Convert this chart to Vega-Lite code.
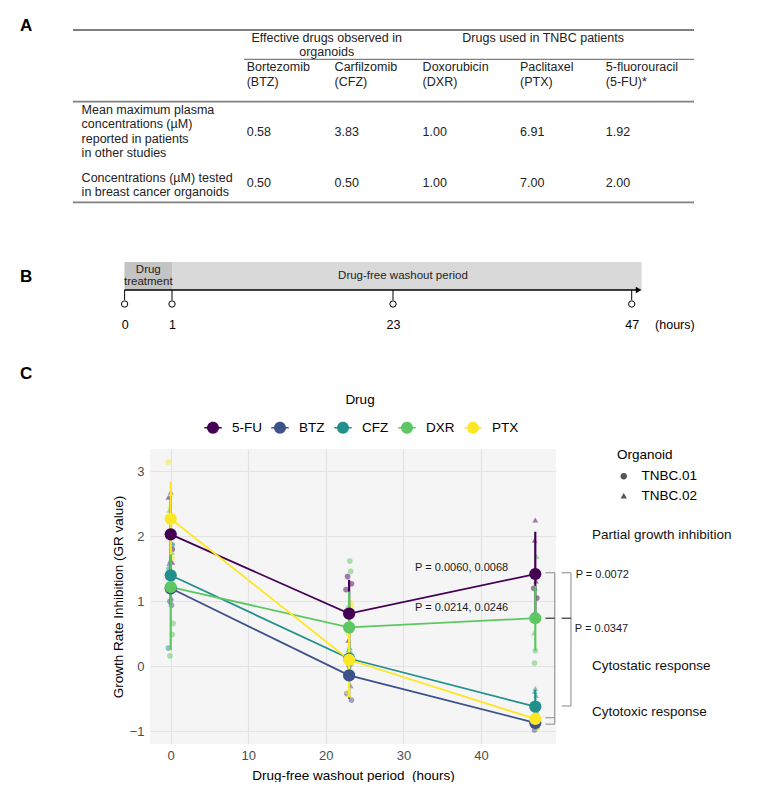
{
  "$schema": "https://vega.github.io/schema/vega-lite/v6.json",
  "padding": {"left": 20, "top": 17, "right": 0, "bottom": 0},
  "autosize": {"type": "pad"},
  "spacing": 34,
  "bounds": "full",
  "config": {
    "font": "Liberation Sans",
    "view": {"stroke": null},
    "title": {"fontSize": 17, "fontWeight": "bold", "anchor": "start", "frame": "group", "color": "#000000", "offset": 0, "font": "Liberation Sans"},
    "axis": {"labelFont": "Liberation Sans", "titleFont": "Liberation Sans"},
    "legend": {"labelFont": "Liberation Sans", "titleFont": "Liberation Sans"}
  },
  "vconcat": [
    {
      "title": {"text": "A", "dx": -130, "dy": 10},
      "width": 544,
      "height": 198,
      "layer": [
        {
          "data": {"values": [{"row": 0}, {"row": 4}, {"row": 7}]},
          "mark": {"type": "rule", "color": "#808080", "strokeWidth": 1.8, "xOffset": -8.6, "x2Offset": 88.2},
          "encoding": {
            "y": {"field": "row", "type": "quantitative", "axis": null, "scale": {"domain": [0,1,2,3,4,5,6,7], "range": [0,1.5,29.3,31,71.7,101.5,153,172.3], "nice": false, "zero": false}},
            "x": {"datum": 0, "type": "quantitative", "axis": null, "scale": {"domain": [0,1,2,3,4,5], "range": [-68.4,96.7,184.6,272.6,370,455.8], "nice": false, "zero": false}},
            "x2": {"datum": 5}
          }
        },
        {
          "data": {"values": [{"row": 2, "col": 1}]},
          "mark": {"type": "rule", "color": "#808080", "strokeWidth": 1.3, "xOffset": -2.7, "x2Offset": 88.2},
          "encoding": {
            "y": {"field": "row", "type": "quantitative", "axis": null, "scale": {"domain": [0,1,2,3,4,5,6,7], "range": [0,1.5,29.3,31,71.7,101.5,153,172.3], "nice": false, "zero": false}},
            "x": {"field": "col", "type": "quantitative", "axis": null, "scale": {"domain": [0,1,2,3,4,5], "range": [-68.4,96.7,184.6,272.6,370,455.8], "nice": false, "zero": false}},
            "x2": {"datum": 5}
          }
        },
        {
          "data": {"values": [
            {"row": 1, "col": 1.91, "text": "Effective drugs observed in\norganoids"},
            {"row": 1, "col": 4.27, "text": "Drugs used in TNBC patients"}
          ]},
          "mark": {"type": "text", "align": "center", "baseline": "top", "lineBreak": "\n", "lineHeight": 14.5, "fontSize": 12.5, "color": "#222222"},
          "encoding": {
            "y": {"field": "row", "type": "quantitative", "axis": null, "scale": {"domain": [0,1,2,3,4,5,6,7], "range": [0,1.5,29.3,31,71.7,101.5,153,172.3], "nice": false, "zero": false}},
            "x": {"field": "col", "type": "quantitative", "axis": null, "scale": {"domain": [0,1,2,3,4,5], "range": [-68.4,96.7,184.6,272.6,370,455.8], "nice": false, "zero": false}},
            "text": {"field": "text"}
          }
        },
        {
          "data": {"values": [
            {"row": 3, "col": 1, "text": "Bortezomib\n(BTZ)"},
            {"row": 3, "col": 2, "text": "Carfilzomib\n(CFZ)"},
            {"row": 3, "col": 3, "text": "Doxorubicin\n(DXR)"},
            {"row": 3, "col": 4, "text": "Paclitaxel\n(PTX)"},
            {"row": 3, "col": 5, "text": "5-fluorouracil\n(5-FU)*"}
          ]},
          "mark": {"type": "text", "align": "left", "baseline": "top", "lineBreak": "\n", "lineHeight": 15, "fontSize": 12.5, "color": "#222222"},
          "encoding": {
            "y": {"field": "row", "type": "quantitative", "axis": null, "scale": {"domain": [0,1,2,3,4,5,6,7], "range": [0,1.5,29.3,31,71.7,101.5,153,172.3], "nice": false, "zero": false}},
            "x": {"field": "col", "type": "quantitative", "axis": null, "scale": {"domain": [0,1,2,3,4,5], "range": [-68.4,96.7,184.6,272.6,370,455.8], "nice": false, "zero": false}},
            "text": {"field": "text"}
          }
        },
        {
          "data": {"values": [
            {"row": 5, "col": 0, "text": "Mean maximum plasma\nconcentrations (µM)\nreported in patients\nin other studies"}
          ]},
          "mark": {"type": "text", "align": "left", "baseline": "middle", "lineBreak": "\n", "lineHeight": 14.5, "fontSize": 12.5, "color": "#222222", "dy": -21.75},
          "encoding": {
            "y": {"field": "row", "type": "quantitative", "axis": null, "scale": {"domain": [0,1,2,3,4,5,6,7], "range": [0,1.5,29.3,31,71.7,101.5,153,172.3], "nice": false, "zero": false}},
            "x": {"field": "col", "type": "quantitative", "axis": null, "scale": {"domain": [0,1,2,3,4,5], "range": [-68.4,96.7,184.6,272.6,370,455.8], "nice": false, "zero": false}},
            "text": {"field": "text"}
          }
        },
        {
          "data": {"values": [
            {"row": 6, "col": 0, "text": "Concentrations (µM) tested\nin breast cancer organoids"}
          ]},
          "mark": {"type": "text", "align": "left", "baseline": "middle", "lineBreak": "\n", "lineHeight": 14, "fontSize": 12.5, "color": "#222222", "dy": -5.5},
          "encoding": {
            "y": {"field": "row", "type": "quantitative", "axis": null, "scale": {"domain": [0,1,2,3,4,5,6,7], "range": [0,1.5,29.3,31,71.7,101.5,153,172.3], "nice": false, "zero": false}},
            "x": {"field": "col", "type": "quantitative", "axis": null, "scale": {"domain": [0,1,2,3,4,5], "range": [-68.4,96.7,184.6,272.6,370,455.8], "nice": false, "zero": false}},
            "text": {"field": "text"}
          }
        },
        {
          "data": {"values": [
            {"row": 5, "col": 1, "text": "0.58"},
            {"row": 5, "col": 2, "text": "3.83"},
            {"row": 5, "col": 3, "text": "1.00"},
            {"row": 5, "col": 4, "text": "6.91"},
            {"row": 5, "col": 5, "text": "1.92"},
            {"row": 6, "col": 1, "text": "0.50"},
            {"row": 6, "col": 2, "text": "0.50"},
            {"row": 6, "col": 3, "text": "1.00"},
            {"row": 6, "col": 4, "text": "7.00"},
            {"row": 6, "col": 5, "text": "2.00"}
          ]},
          "mark": {"type": "text", "align": "left", "baseline": "middle", "fontSize": 12.5, "color": "#222222"},
          "encoding": {
            "y": {"field": "row", "type": "quantitative", "axis": null, "scale": {"domain": [0,1,2,3,4,5,6,7], "range": [0,1.5,29.3,31,71.7,101.5,153,172.3], "nice": false, "zero": false}},
            "x": {"field": "col", "type": "quantitative", "axis": null, "scale": {"domain": [0,1,2,3,4,5], "range": [-68.4,96.7,184.6,272.6,370,455.8], "nice": false, "zero": false}},
            "text": {"field": "text"}
          }
        }
      ]
    },
    {
      "title": {"text": "B", "dx": -130, "dy": 28},
      "width": 491,
      "height": 28,
      "encoding": {
        "x": {"field": "h", "type": "quantitative",
              "scale": {"domain": [0, 1, 23, 47], "range": [-25.4, 22, 243, 481.7], "nice": false, "zero": false},
              "axis": {"values": [0, 1, 23, 47], "domain": false, "ticks": false, "tickSize": 0, "grid": false, "labelPadding": 28, "labelFontSize": 12.5, "labelColor": "#000000", "labelFlush": false, "labelOverlap": false, "title": "(hours)", "titleFontSize": 12.5, "titleFontWeight": "normal", "titleColor": "#000000", "titleX": 504.6, "titleY": 34, "titleAlign": "left", "titleBaseline": "middle", "titleAnchor": "start"}}
      },
      "layer": [
        {
          "data": {"values": [{"phase": "whole timeline", "h": 0, "h2": 48}]},
          "mark": {"type": "rect", "color": "#d9d9d9"},
          "encoding": {
            "x2": {"field": "h2"},
            "y": {"datum": 0, "type": "quantitative", "axis": null, "scale": {"domain": [0, 1], "nice": false, "zero": false}},
            "y2": {"datum": 1}
          }
        },
        {
          "data": {"values": [{"phase": "Drug treatment", "h": 0, "h2": 1}]},
          "mark": {"type": "rect", "color": "#c4c4c4"},
          "encoding": {
            "x2": {"field": "h2"},
            "y": {"datum": 0, "type": "quantitative", "axis": null, "scale": {"domain": [0, 1], "nice": false, "zero": false}},
            "y2": {"datum": 1}
          }
        },
        {
          "data": {"values": [{"label": "Drug\ntreatment", "h": 0.5}]},
          "mark": {"type": "text", "align": "center", "baseline": "middle", "lineBreak": "\n", "lineHeight": 12, "fontSize": 11.5, "color": "#222222", "dy": -6},
          "encoding": {
            "y": {"datum": 0.5, "type": "quantitative", "axis": null, "scale": {"domain": [0, 1], "nice": false, "zero": false}},
            "text": {"field": "label"}
          }
        },
        {
          "data": {"values": [{"label": "Drug-free washout period", "h": 24}]},
          "mark": {"type": "text", "align": "center", "baseline": "middle", "fontSize": 11.5, "color": "#222222"},
          "encoding": {
            "y": {"datum": 0.5, "type": "quantitative", "axis": null, "scale": {"domain": [0, 1], "nice": false, "zero": false}},
            "text": {"field": "label"}
          }
        },
        {
          "data": {"values": [{"part": "time axis", "h": 0, "h2": 47.8}]},
          "mark": {"type": "rule", "color": "#000000", "strokeWidth": 1.3},
          "encoding": {
            "x2": {"field": "h2"},
            "y": {"datum": 0, "type": "quantitative", "axis": null, "scale": {"domain": [0, 1], "nice": false, "zero": false}}
          }
        },
        {
          "data": {"values": [{"part": "arrow head", "h": 48}]},
          "mark": {"type": "point", "shape": "triangle-right", "filled": true, "color": "#000000", "size": 45, "opacity": 1, "xOffset": -3},
          "encoding": {
            "y": {"datum": 0, "type": "quantitative", "axis": null, "scale": {"domain": [0, 1], "nice": false, "zero": false}}
          }
        },
        {
          "data": {"values": [{"h": 0}, {"h": 1}, {"h": 23}, {"h": 47}]},
          "mark": {"type": "rule", "color": "#000000", "strokeWidth": 1},
          "encoding": {
            "y": {"datum": 0, "type": "quantitative", "axis": null, "scale": {"domain": [0, 1], "nice": false, "zero": false}},
            "y2": {"datum": -0.36}
          }
        },
        {
          "data": {"values": [{"h": 0}, {"h": 1}, {"h": 23}, {"h": 47}]},
          "mark": {"type": "point", "filled": false, "color": "#000000", "strokeWidth": 1, "size": 40, "opacity": 1},
          "encoding": {
            "y": {"datum": -0.5, "type": "quantitative", "axis": null, "scale": {"domain": [0, 1], "nice": false, "zero": false}}
          }
        }
      ]
    },
    {
      "title": {"text": "C", "dx": -130, "dy": -62},
      "width": 406,
      "height": 295,
      "view": {"fill": "#f5f5f5", "stroke": null},
      "encoding": {
        "x": {"field": "time", "type": "quantitative",
              "scale": {"domain": [-2.67, 49.67], "nice": false, "zero": false},
              "axis": {"values": [0, 10, 20, 30, 40], "domain": false, "ticks": false, "grid": true, "gridColor": "#e3e3e3", "gridWidth": 1.2, "labelFontSize": 13, "labelColor": "#4d4d4d", "labelPadding": 5, "title": "Drug-free washout period \u00a0(hours)", "titleFontSize": 13.5, "titleFontWeight": "normal", "titleColor": "#000000", "titlePadding": 6}},
        "y": {"field": "gr", "type": "quantitative",
              "scale": {"domain": [-1.195, 3.343], "nice": false, "zero": false},
              "axis": {"values": [-1, 0, 1, 2, 3], "domain": false, "ticks": false, "grid": true, "gridColor": "#e3e3e3", "gridWidth": 1.2, "labelFontSize": 13, "labelColor": "#4d4d4d", "labelPadding": 6, "title": "Growth Rate Inhibition (GR value)", "titleFontSize": 13.5, "titleFontWeight": "normal", "titleColor": "#000000", "titlePadding": 4}}
      },
      "layer": [
        {
          "data": {"values": [{"region": "below zero"}]},
          "mark": {"type": "rect", "color": "#000000", "opacity": 0.06},
          "encoding": {
            "x": {"datum": -2.67, "type": "quantitative", "scale": {"domain": [-2.67, 49.67], "nice": false, "zero": false}},
            "x2": {"datum": 49.67},
            "y": {"datum": 0, "type": "quantitative", "scale": {"domain": [-1.195, 3.343], "nice": false, "zero": false}},
            "y2": {"datum": -1.195}
          }
        },
        {
          "data": {"values": [{"ref": "zero"}]},
          "mark": {"type": "rule", "color": "#ffffff", "strokeDash": [3, 2], "strokeWidth": 1},
          "encoding": {
            "x": {"datum": -2.67, "type": "quantitative", "scale": {"domain": [-2.67, 49.67], "nice": false, "zero": false}},
            "x2": {"datum": 49.67},
            "y": {"datum": 0, "type": "quantitative", "scale": {"domain": [-1.195, 3.343], "nice": false, "zero": false}}
          }
        },
        {
          "encoding": {
            "color": {"field": "drug", "type": "nominal",
              "scale": {"domain": ["5-FU", "BTZ", "CFZ", "DXR", "PTX"], "range": ["#440154", "#3B528B", "#21908C", "#5DC863", "#FDE725"]},
              "legend": {"orient": "none", "legendX": 52, "legendY": 363, "direction": "horizontal", "title": "Drug", "titleAnchor": "middle", "titleFontSize": 13.5, "titleFontWeight": "normal", "titleColor": "#000000", "titlePadding": 10, "labelFontSize": 13.5, "labelColor": "#000000", "labelOffset": 8, "columnPadding": 7, "padding": 0,
                "symbolType": "M-0.8,-0.07L0.8,-0.07L0.8,0.07L-0.8,0.07Z M0.55,0A0.55,0.55 0 1 1 -0.55,0A0.55,0.55 0 1 1 0.55,0Z",
                "symbolSize": 475, "symbolOpacity": 1, "symbolStrokeWidth": 0,
                "encode": {"symbols": {"update": {"fill": {"scale": "color", "field": "value"}, "stroke": {"value": "transparent"}, "opacity": {"value": 1}}}}}}
          },
          "layer": [
            {
              "data": {"values": [
                {"drug": "5-FU", "time": 0.1, "organoid": "TNBC.01", "gr": 2.25},
                {"drug": "5-FU", "time": -0.2, "organoid": "TNBC.01", "gr": 2.0},
                {"drug": "5-FU", "time": 0.2, "organoid": "TNBC.01", "gr": 1.8},
                {"drug": "5-FU", "time": 0.0, "organoid": "TNBC.02", "gr": 2.68},
                {"drug": "5-FU", "time": -0.3, "organoid": "TNBC.02", "gr": 2.6},
                {"drug": "5-FU", "time": 0.2, "organoid": "TNBC.02", "gr": 1.6},
                {"drug": "5-FU", "time": 22.8, "organoid": "TNBC.01", "gr": 1.38},
                {"drug": "5-FU", "time": 23.3, "organoid": "TNBC.01", "gr": 1.27},
                {"drug": "5-FU", "time": 22.6, "organoid": "TNBC.01", "gr": 1.18},
                {"drug": "5-FU", "time": 23.1, "organoid": "TNBC.02", "gr": 0.55},
                {"drug": "5-FU", "time": 22.9, "organoid": "TNBC.02", "gr": 0.4},
                {"drug": "5-FU", "time": 23.2, "organoid": "TNBC.02", "gr": 0.05},
                {"drug": "5-FU", "time": 46.9, "organoid": "TNBC.01", "gr": 0.79},
                {"drug": "5-FU", "time": 47.2, "organoid": "TNBC.01", "gr": 1.05},
                {"drug": "5-FU", "time": 46.8, "organoid": "TNBC.01", "gr": 1.2},
                {"drug": "5-FU", "time": 47.0, "organoid": "TNBC.02", "gr": 2.25},
                {"drug": "5-FU", "time": 46.9, "organoid": "TNBC.02", "gr": 1.94},
                {"drug": "5-FU", "time": 47.1, "organoid": "TNBC.02", "gr": 1.31},
                {"drug": "BTZ", "time": 0.2, "organoid": "TNBC.01", "gr": 1.35},
                {"drug": "BTZ", "time": -0.1, "organoid": "TNBC.01", "gr": 1.0},
                {"drug": "BTZ", "time": 0.1, "organoid": "TNBC.01", "gr": 0.94},
                {"drug": "BTZ", "time": -0.2, "organoid": "TNBC.02", "gr": 1.58},
                {"drug": "BTZ", "time": 0.1, "organoid": "TNBC.02", "gr": 1.05},
                {"drug": "BTZ", "time": -0.1, "organoid": "TNBC.02", "gr": 1.15},
                {"drug": "BTZ", "time": 22.7, "organoid": "TNBC.01", "gr": -0.42},
                {"drug": "BTZ", "time": 23.3, "organoid": "TNBC.01", "gr": -0.52},
                {"drug": "BTZ", "time": 23.0, "organoid": "TNBC.01", "gr": -0.1},
                {"drug": "BTZ", "time": 23.1, "organoid": "TNBC.02", "gr": 0.2},
                {"drug": "BTZ", "time": 22.8, "organoid": "TNBC.02", "gr": -0.15},
                {"drug": "BTZ", "time": 23.2, "organoid": "TNBC.02", "gr": -0.3},
                {"drug": "BTZ", "time": 47.0, "organoid": "TNBC.01", "gr": -0.9},
                {"drug": "BTZ", "time": 47.2, "organoid": "TNBC.01", "gr": -0.93},
                {"drug": "BTZ", "time": 46.9, "organoid": "TNBC.01", "gr": -0.98},
                {"drug": "BTZ", "time": 47.1, "organoid": "TNBC.02", "gr": -0.82},
                {"drug": "BTZ", "time": 46.8, "organoid": "TNBC.02", "gr": -0.78},
                {"drug": "BTZ", "time": 47.0, "organoid": "TNBC.02", "gr": -0.86},
                {"drug": "CFZ", "time": 0.2, "organoid": "TNBC.01", "gr": 1.87},
                {"drug": "CFZ", "time": -0.2, "organoid": "TNBC.01", "gr": 1.5},
                {"drug": "CFZ", "time": -0.3, "organoid": "TNBC.01", "gr": 0.28},
                {"drug": "CFZ", "time": 0.1, "organoid": "TNBC.02", "gr": 1.9},
                {"drug": "CFZ", "time": -0.1, "organoid": "TNBC.02", "gr": 1.62},
                {"drug": "CFZ", "time": 0.2, "organoid": "TNBC.02", "gr": 1.45},
                {"drug": "CFZ", "time": 23.2, "organoid": "TNBC.01", "gr": 0.05},
                {"drug": "CFZ", "time": 22.8, "organoid": "TNBC.01", "gr": 0.15},
                {"drug": "CFZ", "time": 23.0, "organoid": "TNBC.01", "gr": 0.0},
                {"drug": "CFZ", "time": 23.1, "organoid": "TNBC.02", "gr": 0.28},
                {"drug": "CFZ", "time": 22.9, "organoid": "TNBC.02", "gr": 0.25},
                {"drug": "CFZ", "time": 23.3, "organoid": "TNBC.02", "gr": 0.2},
                {"drug": "CFZ", "time": 47.1, "organoid": "TNBC.01", "gr": -0.72},
                {"drug": "CFZ", "time": 46.9, "organoid": "TNBC.01", "gr": -0.8},
                {"drug": "CFZ", "time": 47.2, "organoid": "TNBC.01", "gr": -0.85},
                {"drug": "CFZ", "time": 47.0, "organoid": "TNBC.02", "gr": -0.34},
                {"drug": "CFZ", "time": 46.9, "organoid": "TNBC.02", "gr": -0.39},
                {"drug": "CFZ", "time": 47.1, "organoid": "TNBC.02", "gr": -0.45},
                {"drug": "DXR", "time": 0.3, "organoid": "TNBC.01", "gr": 0.66},
                {"drug": "DXR", "time": 0.2, "organoid": "TNBC.01", "gr": 0.49},
                {"drug": "DXR", "time": -0.1, "organoid": "TNBC.01", "gr": 0.16},
                {"drug": "DXR", "time": -0.2, "organoid": "TNBC.02", "gr": 2.4},
                {"drug": "DXR", "time": 0.1, "organoid": "TNBC.02", "gr": 2.35},
                {"drug": "DXR", "time": 0.2, "organoid": "TNBC.02", "gr": 1.75},
                {"drug": "DXR", "time": 23.1, "organoid": "TNBC.01", "gr": 1.62},
                {"drug": "DXR", "time": 23.2, "organoid": "TNBC.01", "gr": 1.46},
                {"drug": "DXR", "time": 22.9, "organoid": "TNBC.01", "gr": 0.9},
                {"drug": "DXR", "time": 23.0, "organoid": "TNBC.02", "gr": 0.3},
                {"drug": "DXR", "time": 22.8, "organoid": "TNBC.02", "gr": 0.15},
                {"drug": "DXR", "time": 23.2, "organoid": "TNBC.02", "gr": 0.1},
                {"drug": "DXR", "time": 47.0, "organoid": "TNBC.01", "gr": 0.24},
                {"drug": "DXR", "time": 46.9, "organoid": "TNBC.01", "gr": 0.05},
                {"drug": "DXR", "time": 47.1, "organoid": "TNBC.01", "gr": 0.75},
                {"drug": "DXR", "time": 47.2, "organoid": "TNBC.02", "gr": 1.69},
                {"drug": "DXR", "time": 46.8, "organoid": "TNBC.02", "gr": 0.51},
                {"drug": "DXR", "time": 47.0, "organoid": "TNBC.02", "gr": 1.2},
                {"drug": "PTX", "time": -0.3, "organoid": "TNBC.01", "gr": 3.14},
                {"drug": "PTX", "time": 0.1, "organoid": "TNBC.01", "gr": 2.3},
                {"drug": "PTX", "time": 0.2, "organoid": "TNBC.01", "gr": 1.66},
                {"drug": "PTX", "time": 0.1, "organoid": "TNBC.02", "gr": 2.65},
                {"drug": "PTX", "time": -0.2, "organoid": "TNBC.02", "gr": 2.45},
                {"drug": "PTX", "time": 0.0, "organoid": "TNBC.02", "gr": 1.78},
                {"drug": "PTX", "time": 23.2, "organoid": "TNBC.01", "gr": 0.98},
                {"drug": "PTX", "time": 23.3, "organoid": "TNBC.01", "gr": 0.92},
                {"drug": "PTX", "time": 22.9, "organoid": "TNBC.01", "gr": 0.5},
                {"drug": "PTX", "time": 22.7, "organoid": "TNBC.02", "gr": -0.39},
                {"drug": "PTX", "time": 22.9, "organoid": "TNBC.02", "gr": -0.44},
                {"drug": "PTX", "time": 23.1, "organoid": "TNBC.02", "gr": -0.46},
                {"drug": "PTX", "time": 47.1, "organoid": "TNBC.01", "gr": -0.78},
                {"drug": "PTX", "time": 46.9, "organoid": "TNBC.01", "gr": -0.8},
                {"drug": "PTX", "time": 47.2, "organoid": "TNBC.01", "gr": -0.95},
                {"drug": "PTX", "time": 47.0, "organoid": "TNBC.02", "gr": -0.85},
                {"drug": "PTX", "time": 46.8, "organoid": "TNBC.02", "gr": -0.9},
                {"drug": "PTX", "time": 47.1, "organoid": "TNBC.02", "gr": -0.74}
              ]},
              "mark": {"type": "point", "filled": true, "size": 32, "opacity": 0.5},
              "encoding": {
                "shape": {"field": "organoid", "type": "nominal",
                  "scale": {"domain": ["TNBC.01", "TNBC.02"], "range": ["circle", "triangle-up"]},
                  "legend": {"orient": "none", "legendX": 467, "legendY": 418, "title": "Organoid", "titleFontSize": 13.5, "titleFontWeight": "normal", "titleColor": "#000000", "titlePadding": 8, "labelFontSize": 13.5, "labelColor": "#000000", "labelOffset": 11, "rowPadding": 4.5, "padding": 0, "symbolSize": 40, "symbolFillColor": "#555555", "symbolStrokeColor": "#555555", "symbolStrokeWidth": 0, "symbolOpacity": 1}}
              }
            },
            {
              "data": {"values": [
                {"drug": "5-FU", "time": 0, "lo": 1.45, "hi": 2.62},
                {"drug": "5-FU", "time": 23, "lo": 0.3, "hi": 1.33},
                {"drug": "5-FU", "time": 47, "lo": 0.77, "hi": 2.07},
                {"drug": "BTZ", "time": 0, "lo": 0.95, "hi": 1.45},
                {"drug": "BTZ", "time": 23, "lo": -0.5, "hi": 0.2},
                {"drug": "BTZ", "time": 47, "lo": -0.97, "hi": -0.77},
                {"drug": "CFZ", "time": 0, "lo": 0.95, "hi": 1.85},
                {"drug": "CFZ", "time": 23, "lo": -0.1, "hi": 0.35},
                {"drug": "CFZ", "time": 47, "lo": -0.88, "hi": -0.36},
                {"drug": "DXR", "time": 0, "lo": 0.25, "hi": 2.2},
                {"drug": "DXR", "time": 23, "lo": 0.1, "hi": 1.15},
                {"drug": "DXR", "time": 47, "lo": 0.24, "hi": 1.24},
                {"drug": "PTX", "time": 0, "lo": 1.72, "hi": 2.84},
                {"drug": "PTX", "time": 23, "lo": -0.48, "hi": 0.7},
                {"drug": "PTX", "time": 47, "lo": -0.95, "hi": -0.68}
              ]},
              "mark": {"type": "rule", "strokeWidth": 2.2},
              "encoding": {
                "y": {"field": "lo", "type": "quantitative", "scale": {"domain": [-1.195, 3.343], "nice": false, "zero": false}, "title": "Growth Rate Inhibition (GR value)"},
                "y2": {"field": "hi"}
              }
            },
            {
              "data": {"values": [
                {"drug": "5-FU", "time": 0, "gr": 2.03},
                {"drug": "5-FU", "time": 23, "gr": 0.81},
                {"drug": "5-FU", "time": 47, "gr": 1.42},
                {"drug": "BTZ", "time": 0, "gr": 1.2},
                {"drug": "BTZ", "time": 23, "gr": -0.14},
                {"drug": "BTZ", "time": 47, "gr": -0.87},
                {"drug": "CFZ", "time": 0, "gr": 1.4},
                {"drug": "CFZ", "time": 23, "gr": 0.12},
                {"drug": "CFZ", "time": 47, "gr": -0.62},
                {"drug": "DXR", "time": 0, "gr": 1.22},
                {"drug": "DXR", "time": 23, "gr": 0.6},
                {"drug": "DXR", "time": 47, "gr": 0.74},
                {"drug": "PTX", "time": 0, "gr": 2.27},
                {"drug": "PTX", "time": 23, "gr": 0.1},
                {"drug": "PTX", "time": 47, "gr": -0.81}
              ]},
              "layer": [
                {"mark": {"type": "line", "strokeWidth": 1.8}},
                {"mark": {"type": "point", "filled": true, "size": 150, "opacity": 1}}
              ]
            }
          ]
        },
        {
          "data": {"values": [
            {"time": 48.3, "time2": 49.5, "gr": 1.44, "gr2": 1.44},
            {"time": 49.5, "time2": 49.5, "gr": 1.44, "gr2": -0.89},
            {"time": 48.3, "time2": 49.5, "gr": -0.79, "gr2": -0.79},
            {"time": 48.3, "time2": 49.5, "gr": -0.89, "gr2": -0.89},
            {"time": 50.4, "time2": 51.6, "gr": 1.44, "gr2": 1.44},
            {"time": 51.6, "time2": 51.6, "gr": 1.44, "gr2": -0.61},
            {"time": 50.4, "time2": 51.6, "gr": -0.61, "gr2": -0.61}
          ]},
          "mark": {"type": "rule", "color": "#9a9a9a", "strokeWidth": 1.2},
          "encoding": {"x2": {"field": "time2"}, "y2": {"field": "gr2"}}
        },
        {
          "data": {"values": [
            {"time": 48.3, "time2": 49.5, "gr": 0.74, "gr2": 0.74},
            {"time": 50.4, "time2": 51.6, "gr": 0.74, "gr2": 0.74}
          ]},
          "mark": {"type": "rule", "color": "#333333", "strokeWidth": 1.2},
          "encoding": {"x2": {"field": "time2"}, "y2": {"field": "gr2"}}
        },
        {
          "data": {"values": [
            {"time": 43.5, "gr": 1.51, "label": "P = 0.0060, 0.0068"},
            {"time": 43.5, "gr": 0.89, "label": "P = 0.0214, 0.0246"}
          ]},
          "mark": {"type": "text", "align": "right", "baseline": "middle", "fontSize": 11, "color": "#1a1a1a"},
          "encoding": {"text": {"field": "label"}}
        },
        {
          "data": {"values": [
            {"time": 52.2, "gr": 1.4, "label": "P = 0.0072"},
            {"time": 52.1, "gr": 0.57, "label": "P = 0.0347"}
          ]},
          "mark": {"type": "text", "align": "left", "baseline": "middle", "fontSize": 11, "color": "#1a1a1a"},
          "encoding": {"text": {"field": "label"}}
        },
        {
          "data": {"values": [
            {"time": 54.3, "gr": 2.02, "label": "Partial growth inhibition"},
            {"time": 54.3, "gr": 0.01, "label": "Cytostatic response"},
            {"time": 54.3, "gr": -0.71, "label": "Cytotoxic response"}
          ]},
          "mark": {"type": "text", "align": "left", "baseline": "middle", "fontSize": 13.5, "color": "#111111"},
          "encoding": {"text": {"field": "label"}}
        }
      ]
    }
  ]
}
